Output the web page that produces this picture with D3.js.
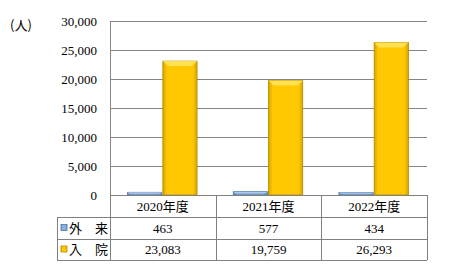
<!DOCTYPE html>
<html><head><meta charset="utf-8">
<script src="https://cdn.jsdelivr.net/npm/d3@7"></script>
<style>body{margin:0;background:#fff}svg{display:block}</style>
</head><body>
<svg id="c" width="469" height="278"></svg>
<script>
const categories = ["2020年度", "2021年度", "2022年度"];
const seriesNames = ["外\u3000来", "入\u3000院"];
const outpatient = [463, 577, 434];
const inpatient = [23083, 19759, 26293];
const yTicks = [0, 5000, 10000, 15000, 20000, 25000, 30000];
const unitLabel = "(人)";

const svg = d3.select("#c");
const L = 110, R = 427, T = 21, B = 195;
const serif = "'Liberation Serif','Times New Roman',serif";
const cjk = "'Liberation Serif','Noto Sans CJK JP',serif";
const gridCol = "#868686";

const y = d3.scaleLinear().domain([0, 30000]).range([B, T]);
const x = d3.scaleBand().domain(categories).range([L, R]);
const xs = d3.scaleBand().domain([0, 1]).range([0, x.bandwidth()]).paddingOuter(0.5).paddingInner(0);

const defs = svg.append("defs");
function grad(id, edge, mid) {
  const g = defs.append("linearGradient").attr("id", id).attr("x1", 0).attr("x2", 1).attr("y1", 0).attr("y2", 0);
  [[0, edge], [0.12, mid], [0.88, mid], [1, edge]].forEach(([o, c]) => g.append("stop").attr("offset", o).attr("stop-color", c));
}
grad("gy", "#D9A300", "#FFC800");
grad("gb", "#5F86B8", "#8DB0DC");

// grid
svg.append("g").selectAll("line").data(yTicks.slice(1)).join("line")
  .attr("x1", L).attr("x2", R).attr("y1", d => y(d) + 0.5).attr("y2", d => y(d) + 0.5)
  .attr("stroke", gridCol).attr("stroke-width", 1);
svg.append("line").attr("x1", L + 0.5).attr("x2", L + 0.5).attr("y1", T).attr("y2", B).attr("stroke", gridCol);

// y labels
svg.append("g").selectAll("text").data(yTicks).join("text")
  .attr("x", 97).attr("y", d => y(d)).attr("dy", "0.35em").attr("text-anchor", "end")
  .attr("font-family", serif).attr("font-size", 13).attr("fill", "#000")
  .text(d => d3.format(",")(d));
svg.append("text").attr("x", 10).attr("y", 30).attr("font-family", "'Noto Sans CJK JP',sans-serif")
  .attr("font-size", 13).text(unitLabel);

// bars
const series = [outpatient, inpatient];
const fills = ["url(#gb)", "url(#gy)"];
const strokes = ["#4A74A8", "#B58A00"];
const tops = ["#B0CBEA", "#FFE35A"];
series.forEach((vals, si) => {
  const g = svg.append("g");
  vals.forEach((v, i) => {
    const bx = x(categories[i]) + xs(si), bw = xs.bandwidth() - 1;
    const by = y(v), bh = B - y(v);
    g.append("rect").attr("x", bx).attr("y", by).attr("width", bw).attr("height", bh)
      .attr("fill", fills[si]).attr("stroke", strokes[si]).attr("stroke-width", 0.8);
    const bev = Math.min(5, bh / 2);
    g.append("path").attr("d", `M${bx},${by} L${bx + bw},${by} L${bx + bw - bev},${by + bev} L${bx + bev},${by + bev} Z`)
      .attr("fill", tops[si]).attr("opacity", 0.9);
  });
});

// table
const rowH = [195, 217, 239, 260];
const tcol = "#808080";
const tg = svg.append("g").attr("stroke", tcol).attr("stroke-width", 1);
tg.append("line").attr("x1", L).attr("x2", R).attr("y1", rowH[0] + 0.5).attr("y2", rowH[0] + 0.5);
[1, 2, 3].forEach(r => tg.append("line").attr("x1", 57).attr("x2", R).attr("y1", rowH[r] + 0.5).attr("y2", rowH[r] + 0.5));
tg.append("line").attr("x1", 57.5).attr("x2", 57.5).attr("y1", rowH[1]).attr("y2", rowH[3]);
tg.append("line").attr("x1", L + 0.5).attr("x2", L + 0.5).attr("y1", rowH[0]).attr("y2", rowH[3]);
categories.forEach(c => {
  const xx = Math.round(x(c) + x.bandwidth());
  tg.append("line").attr("x1", xx + 0.5).attr("x2", xx + 0.5).attr("y1", rowH[0]).attr("y2", rowH[3]);
});
svg.append("g").selectAll("text").data(categories).join("text")
  .attr("x", d => x(d) + x.bandwidth() / 2).attr("y", 206).attr("dy", "0.38em")
  .attr("text-anchor", "middle").attr("font-family", cjk).attr("font-size", 13).text(d => d);
series.forEach((vals, si) => {
  const cy = (rowH[si + 1] + rowH[si + 2]) / 2;
  svg.append("g").selectAll("text").data(vals).join("text")
    .attr("x", (d, i) => x(categories[i]) + x.bandwidth() / 2).attr("y", cy).attr("dy", "0.38em")
    .attr("text-anchor", "middle").attr("font-family", serif).attr("font-size", 13)
    .text(d => d3.format(",")(d));
  svg.append("rect").attr("x", 61).attr("y", cy - 3.5).attr("width", 6).attr("height", 6)
    .attr("fill", fills[si]).attr("stroke", strokes[si]).attr("stroke-width", 0.8);
  svg.append("text").attr("x", 69).attr("y", cy).attr("dy", "0.38em")
    .attr("font-family", "'Noto Sans CJK JP',sans-serif").attr("font-size", 13).text(seriesNames[si]);
});
</script>
</body></html>
